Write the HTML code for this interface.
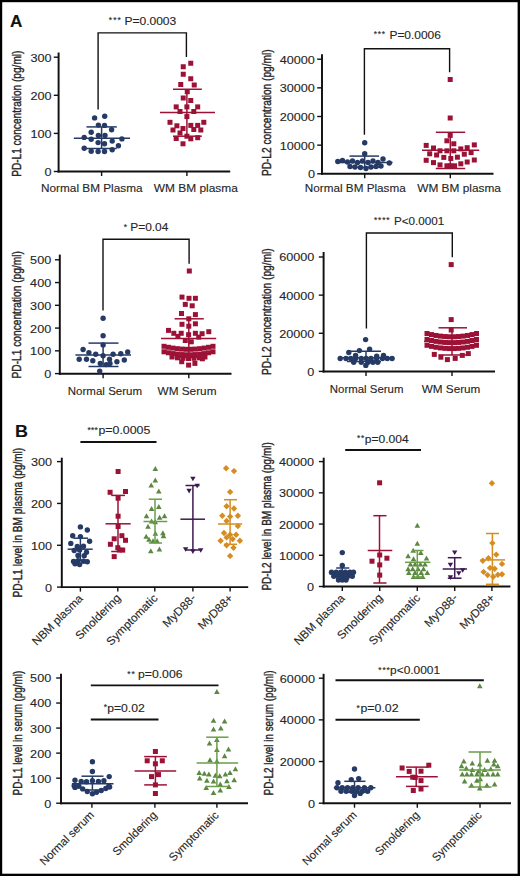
<!DOCTYPE html>
<html><head><meta charset="utf-8"><style>
html,body{margin:0;padding:0;background:#fff;}
svg{display:block;}
text{font-family:"Liberation Sans",sans-serif;stroke:#262626;stroke-width:0.12px;}
.v{stroke-width:0.4px;}
</style></head><body>
<svg width="520" height="876" viewBox="0 0 520 876">
<rect x="0" y="0" width="520" height="876" fill="#000"/>
<rect x="2.2" y="2.2" width="515.4" height="871.5" fill="#fff"/>
<text transform="translate(10.07,26.9) scale(1.0748,1)" font-size="16" font-weight="bold" fill="#111">A</text>
<line x1="58.6" y1="52.5" x2="58.6" y2="172.47" stroke="#111" stroke-width="1.95" stroke-linecap="butt"/>
<line x1="57.62" y1="171.5" x2="230.2" y2="171.5" stroke="#111" stroke-width="1.95" stroke-linecap="butt"/>
<line x1="53.8" y1="57.2" x2="58.6" y2="57.2" stroke="#111" stroke-width="1.4" stroke-linecap="butt"/>
<text transform="translate(30.52,61.65) scale(1.1000,1)" font-size="11.5" fill="#262626">300</text>
<line x1="53.8" y1="95.3" x2="58.6" y2="95.3" stroke="#111" stroke-width="1.4" stroke-linecap="butt"/>
<text transform="translate(30.52,99.75) scale(1.1000,1)" font-size="11.5" fill="#262626">200</text>
<line x1="53.8" y1="133.4" x2="58.6" y2="133.4" stroke="#111" stroke-width="1.4" stroke-linecap="butt"/>
<text transform="translate(30.52,137.85) scale(1.1000,1)" font-size="11.5" fill="#262626">100</text>
<line x1="53.8" y1="171.5" x2="58.6" y2="171.5" stroke="#111" stroke-width="1.4" stroke-linecap="butt"/>
<text transform="translate(44.6,175.95) scale(1.1000,1)" font-size="11.5" fill="#262626">0</text>
<line x1="101.6" y1="171.5" x2="101.6" y2="176" stroke="#111" stroke-width="1.4" stroke-linecap="butt"/>
<line x1="186.9" y1="171.5" x2="186.9" y2="176" stroke="#111" stroke-width="1.4" stroke-linecap="butt"/>
<text transform="translate(41.03,191.8) scale(1.0725,1)" font-size="11" fill="#262626">Normal BM Plasma</text>
<text transform="translate(153.69,191.8) scale(1.0865,1)" font-size="11" fill="#262626">WM BM plasma</text>
<text class="v" transform="translate(21.2,176) rotate(-90) scale(0.7783,1) translate(-1.1,0)" font-size="13" fill="#262626">PD-L1 concentration (pg/ml)</text>
<polyline points="98.1,109.5 98.1,32.9 186.4,32.9 186.4,57" fill="none" stroke="#111" stroke-width="1.4"/>
<text transform="translate(124.41,24.9) scale(1.0957,1)" font-size="11" fill="#262626">P=0.0003</text>
<text x="108.7" y="23.11" font-size="8.5" fill="#262626">*</text>
<text x="113.15" y="23.11" font-size="8.5" fill="#262626">*</text>
<text x="117.6" y="23.11" font-size="8.5" fill="#262626">*</text>
<circle cx="94.6" cy="117.9" r="2.7" fill="#263a66"/>
<circle cx="104.7" cy="116.2" r="2.7" fill="#263a66"/>
<circle cx="98.4" cy="125.1" r="2.7" fill="#263a66"/>
<circle cx="104.5" cy="125.4" r="2.7" fill="#263a66"/>
<circle cx="111.6" cy="129.7" r="2.7" fill="#263a66"/>
<circle cx="91.2" cy="132.3" r="2.7" fill="#263a66"/>
<circle cx="98.4" cy="135.4" r="2.7" fill="#263a66"/>
<circle cx="105" cy="135.4" r="2.7" fill="#263a66"/>
<circle cx="84.2" cy="137.4" r="2.7" fill="#263a66"/>
<circle cx="91.2" cy="139.2" r="2.7" fill="#263a66"/>
<circle cx="121.9" cy="138.9" r="2.7" fill="#263a66"/>
<circle cx="112.2" cy="141.1" r="2.7" fill="#263a66"/>
<circle cx="98.1" cy="142.6" r="2.7" fill="#263a66"/>
<circle cx="104.5" cy="143.8" r="2.7" fill="#263a66"/>
<circle cx="118.4" cy="145.7" r="2.7" fill="#263a66"/>
<circle cx="84.2" cy="148.2" r="2.7" fill="#263a66"/>
<circle cx="91.2" cy="151.2" r="2.7" fill="#263a66"/>
<circle cx="98.1" cy="151.5" r="2.7" fill="#263a66"/>
<circle cx="104.5" cy="151.5" r="2.7" fill="#263a66"/>
<circle cx="112.2" cy="149.7" r="2.7" fill="#263a66"/>
<line x1="73.8" y1="138.2" x2="130" y2="138.2" stroke="#263a66" stroke-width="1.5" stroke-linecap="butt"/>
<line x1="86.5" y1="126.9" x2="116.8" y2="126.9" stroke="#263a66" stroke-width="1.5" stroke-linecap="butt"/>
<line x1="86.5" y1="148.5" x2="116.8" y2="148.5" stroke="#263a66" stroke-width="1.5" stroke-linecap="butt"/>
<line x1="101.6" y1="126.9" x2="101.6" y2="148.5" stroke="#263a66" stroke-width="1.5" stroke-linecap="butt"/>
<rect x="188.25" y="60.75" width="5" height="5" fill="#9c1236"/>
<rect x="180.75" y="64.25" width="5" height="5" fill="#9c1236"/>
<rect x="180.75" y="71.75" width="5" height="5" fill="#9c1236"/>
<rect x="188.25" y="76.25" width="5" height="5" fill="#9c1236"/>
<rect x="178.25" y="82" width="5" height="5" fill="#9c1236"/>
<rect x="191.75" y="82.5" width="5" height="5" fill="#9c1236"/>
<rect x="184.75" y="89.25" width="5" height="5" fill="#9c1236"/>
<rect x="180.75" y="95.5" width="5" height="5" fill="#9c1236"/>
<rect x="188.25" y="98" width="5" height="5" fill="#9c1236"/>
<rect x="173.7" y="104.4" width="5" height="5" fill="#9c1236"/>
<rect x="184.4" y="104.4" width="5" height="5" fill="#9c1236"/>
<rect x="195.2" y="104.4" width="5" height="5" fill="#9c1236"/>
<rect x="177.5" y="109" width="5" height="5" fill="#9c1236"/>
<rect x="191.3" y="109" width="5" height="5" fill="#9c1236"/>
<rect x="184.4" y="114.1" width="5" height="5" fill="#9c1236"/>
<rect x="167.5" y="119.8" width="5" height="5" fill="#9c1236"/>
<rect x="201.3" y="119.8" width="5" height="5" fill="#9c1236"/>
<rect x="174.4" y="123.3" width="5" height="5" fill="#9c1236"/>
<rect x="188.3" y="122.9" width="5" height="5" fill="#9c1236"/>
<rect x="195.2" y="122.9" width="5" height="5" fill="#9c1236"/>
<rect x="170.5" y="127.5" width="5" height="5" fill="#9c1236"/>
<rect x="180.5" y="126" width="5" height="5" fill="#9c1236"/>
<rect x="191.3" y="127" width="5" height="5" fill="#9c1236"/>
<rect x="198.3" y="127.5" width="5" height="5" fill="#9c1236"/>
<rect x="177.5" y="130.5" width="5" height="5" fill="#9c1236"/>
<rect x="184.4" y="133.7" width="5" height="5" fill="#9c1236"/>
<rect x="173.7" y="136" width="5" height="5" fill="#9c1236"/>
<rect x="188.3" y="136.3" width="5" height="5" fill="#9c1236"/>
<rect x="195.2" y="135.2" width="5" height="5" fill="#9c1236"/>
<rect x="180.5" y="141.3" width="5" height="5" fill="#9c1236"/>
<line x1="160" y1="112.5" x2="215" y2="112.5" stroke="#9c1236" stroke-width="1.5" stroke-linecap="butt"/>
<line x1="173" y1="89.25" x2="201.8" y2="89.25" stroke="#9c1236" stroke-width="1.5" stroke-linecap="butt"/>
<line x1="173" y1="136.2" x2="201.8" y2="136.2" stroke="#9c1236" stroke-width="1.5" stroke-linecap="butt"/>
<line x1="186.9" y1="89.25" x2="186.9" y2="136.2" stroke="#9c1236" stroke-width="1.5" stroke-linecap="butt"/>
<line x1="322" y1="54.3" x2="322" y2="174.78" stroke="#111" stroke-width="1.95" stroke-linecap="butt"/>
<line x1="321.02" y1="173.8" x2="493.5" y2="173.8" stroke="#111" stroke-width="1.95" stroke-linecap="butt"/>
<line x1="317.2" y1="59.2" x2="322" y2="59.2" stroke="#111" stroke-width="1.4" stroke-linecap="butt"/>
<text transform="translate(279.74,63.65) scale(1.1000,1)" font-size="11.5" fill="#262626">40000</text>
<line x1="317.2" y1="87.85" x2="322" y2="87.85" stroke="#111" stroke-width="1.4" stroke-linecap="butt"/>
<text transform="translate(279.74,92.3) scale(1.1000,1)" font-size="11.5" fill="#262626">30000</text>
<line x1="317.2" y1="116.5" x2="322" y2="116.5" stroke="#111" stroke-width="1.4" stroke-linecap="butt"/>
<text transform="translate(279.74,120.95) scale(1.1000,1)" font-size="11.5" fill="#262626">20000</text>
<line x1="317.2" y1="145.15" x2="322" y2="145.15" stroke="#111" stroke-width="1.4" stroke-linecap="butt"/>
<text transform="translate(279.74,149.6) scale(1.1000,1)" font-size="11.5" fill="#262626">10000</text>
<line x1="317.2" y1="173.8" x2="322" y2="173.8" stroke="#111" stroke-width="1.4" stroke-linecap="butt"/>
<text transform="translate(307.9,178.25) scale(1.1000,1)" font-size="11.5" fill="#262626">0</text>
<line x1="364.7" y1="173.8" x2="364.7" y2="178.3" stroke="#111" stroke-width="1.4" stroke-linecap="butt"/>
<line x1="450.3" y1="173.8" x2="450.3" y2="178.3" stroke="#111" stroke-width="1.4" stroke-linecap="butt"/>
<text transform="translate(304.84,192.2) scale(1.0661,1)" font-size="11" fill="#262626">Normal BM Plasma</text>
<text transform="translate(417.19,192.2) scale(1.0800,1)" font-size="11" fill="#262626">WM BM plasma</text>
<text class="v" transform="translate(271.4,175.2) rotate(-90) scale(0.7796,1) translate(-1.1,0)" font-size="13" fill="#262626">PD-L2 concentration (pg/ml)</text>
<polyline points="364.4,134.7 364.4,48.7 449.6,48.7 449.6,72.3" fill="none" stroke="#111" stroke-width="1.4"/>
<text transform="translate(389.42,39.1) scale(1.0870,1)" font-size="11" fill="#262626">P=0.0006</text>
<text x="373.7" y="37.31" font-size="8.5" fill="#262626">*</text>
<text x="377.75" y="37.31" font-size="8.5" fill="#262626">*</text>
<text x="381.8" y="37.31" font-size="8.5" fill="#262626">*</text>
<circle cx="364.7" cy="142.8" r="2.7" fill="#263a66"/>
<circle cx="364.7" cy="153.8" r="2.7" fill="#263a66"/>
<circle cx="337.8" cy="161.5" r="2.7" fill="#263a66"/>
<circle cx="342.5" cy="160.5" r="2.7" fill="#263a66"/>
<circle cx="347.5" cy="162" r="2.7" fill="#263a66"/>
<circle cx="352.5" cy="161" r="2.7" fill="#263a66"/>
<circle cx="357.5" cy="162.5" r="2.7" fill="#263a66"/>
<circle cx="362.5" cy="161" r="2.7" fill="#263a66"/>
<circle cx="368" cy="162.5" r="2.7" fill="#263a66"/>
<circle cx="373" cy="161" r="2.7" fill="#263a66"/>
<circle cx="378" cy="162.5" r="2.7" fill="#263a66"/>
<circle cx="383" cy="159" r="2.7" fill="#263a66"/>
<circle cx="389.3" cy="163" r="2.7" fill="#263a66"/>
<circle cx="350" cy="166.5" r="2.7" fill="#263a66"/>
<circle cx="355" cy="167" r="2.7" fill="#263a66"/>
<circle cx="360.5" cy="167.5" r="2.7" fill="#263a66"/>
<circle cx="366" cy="168.5" r="2.7" fill="#263a66"/>
<circle cx="371" cy="167" r="2.7" fill="#263a66"/>
<circle cx="376" cy="166.5" r="2.7" fill="#263a66"/>
<circle cx="381" cy="166" r="2.7" fill="#263a66"/>
<line x1="336.7" y1="162.6" x2="392.6" y2="162.6" stroke="#263a66" stroke-width="1.5" stroke-linecap="butt"/>
<line x1="349.5" y1="156.1" x2="379.1" y2="156.1" stroke="#263a66" stroke-width="1.5" stroke-linecap="butt"/>
<line x1="349.5" y1="167.3" x2="379.1" y2="167.3" stroke="#263a66" stroke-width="1.5" stroke-linecap="butt"/>
<line x1="364.7" y1="156.1" x2="364.7" y2="167.3" stroke="#263a66" stroke-width="1.5" stroke-linecap="butt"/>
<rect x="447.7" y="77" width="5" height="5" fill="#9c1236"/>
<rect x="447.7" y="115.5" width="5" height="5" fill="#9c1236"/>
<rect x="447.7" y="132.9" width="5" height="5" fill="#9c1236"/>
<rect x="444.4" y="138.3" width="5" height="5" fill="#9c1236"/>
<rect x="451.3" y="141.3" width="5" height="5" fill="#9c1236"/>
<rect x="423.7" y="142.9" width="5" height="5" fill="#9c1236"/>
<rect x="471.8" y="142.4" width="5" height="5" fill="#9c1236"/>
<rect x="431" y="145.5" width="5" height="5" fill="#9c1236"/>
<rect x="437.5" y="148.3" width="5" height="5" fill="#9c1236"/>
<rect x="444.4" y="148.3" width="5" height="5" fill="#9c1236"/>
<rect x="451.3" y="148.3" width="5" height="5" fill="#9c1236"/>
<rect x="458.3" y="146.4" width="5" height="5" fill="#9c1236"/>
<rect x="464.7" y="145.2" width="5" height="5" fill="#9c1236"/>
<rect x="427.2" y="151.3" width="5" height="5" fill="#9c1236"/>
<rect x="434.1" y="152.5" width="5" height="5" fill="#9c1236"/>
<rect x="468.6" y="150.1" width="5" height="5" fill="#9c1236"/>
<rect x="461.8" y="151.7" width="5" height="5" fill="#9c1236"/>
<rect x="441.3" y="154.9" width="5" height="5" fill="#9c1236"/>
<rect x="448.3" y="156" width="5" height="5" fill="#9c1236"/>
<rect x="454.9" y="154.7" width="5" height="5" fill="#9c1236"/>
<rect x="423.7" y="157.8" width="5" height="5" fill="#9c1236"/>
<rect x="471.8" y="157.5" width="5" height="5" fill="#9c1236"/>
<rect x="431" y="160.1" width="5" height="5" fill="#9c1236"/>
<rect x="437.5" y="162.4" width="5" height="5" fill="#9c1236"/>
<rect x="444.4" y="163.3" width="5" height="5" fill="#9c1236"/>
<rect x="448.3" y="163.3" width="5" height="5" fill="#9c1236"/>
<rect x="452.1" y="163.3" width="5" height="5" fill="#9c1236"/>
<rect x="458.3" y="161.3" width="5" height="5" fill="#9c1236"/>
<rect x="464.7" y="159.5" width="5" height="5" fill="#9c1236"/>
<line x1="422" y1="150.3" x2="479.2" y2="150.3" stroke="#9c1236" stroke-width="1.5" stroke-linecap="butt"/>
<line x1="435.8" y1="132.3" x2="465.2" y2="132.3" stroke="#9c1236" stroke-width="1.5" stroke-linecap="butt"/>
<line x1="435.8" y1="168.5" x2="465.2" y2="168.5" stroke="#9c1236" stroke-width="1.5" stroke-linecap="butt"/>
<line x1="450.3" y1="132.3" x2="450.3" y2="168.5" stroke="#9c1236" stroke-width="1.5" stroke-linecap="butt"/>
<line x1="59.8" y1="254.6" x2="59.8" y2="374.78" stroke="#111" stroke-width="1.95" stroke-linecap="butt"/>
<line x1="58.82" y1="373.8" x2="231.5" y2="373.8" stroke="#111" stroke-width="1.95" stroke-linecap="butt"/>
<line x1="55" y1="259.8" x2="59.8" y2="259.8" stroke="#111" stroke-width="1.4" stroke-linecap="butt"/>
<text transform="translate(30.12,264.25) scale(1.1000,1)" font-size="11.5" fill="#262626">500</text>
<line x1="55" y1="282.56" x2="59.8" y2="282.56" stroke="#111" stroke-width="1.4" stroke-linecap="butt"/>
<text transform="translate(30.12,287.01) scale(1.1000,1)" font-size="11.5" fill="#262626">400</text>
<line x1="55" y1="305.32" x2="59.8" y2="305.32" stroke="#111" stroke-width="1.4" stroke-linecap="butt"/>
<text transform="translate(30.12,309.77) scale(1.1000,1)" font-size="11.5" fill="#262626">300</text>
<line x1="55" y1="328.08" x2="59.8" y2="328.08" stroke="#111" stroke-width="1.4" stroke-linecap="butt"/>
<text transform="translate(30.12,332.53) scale(1.1000,1)" font-size="11.5" fill="#262626">200</text>
<line x1="55" y1="350.84" x2="59.8" y2="350.84" stroke="#111" stroke-width="1.4" stroke-linecap="butt"/>
<text transform="translate(30.12,355.29) scale(1.1000,1)" font-size="11.5" fill="#262626">100</text>
<line x1="55" y1="373.6" x2="59.8" y2="373.6" stroke="#111" stroke-width="1.4" stroke-linecap="butt"/>
<text transform="translate(44.2,378.05) scale(1.1000,1)" font-size="11.5" fill="#262626">0</text>
<line x1="103.1" y1="373.8" x2="103.1" y2="378.3" stroke="#111" stroke-width="1.4" stroke-linecap="butt"/>
<line x1="188.8" y1="373.8" x2="188.8" y2="378.3" stroke="#111" stroke-width="1.4" stroke-linecap="butt"/>
<text transform="translate(67.76,394.9) scale(1.0491,1)" font-size="11" fill="#262626">Normal Serum</text>
<text transform="translate(157.49,394.9) scale(1.0739,1)" font-size="11" fill="#262626">WM Serum</text>
<text class="v" transform="translate(20.6,377.6) rotate(-90) scale(0.7839,1) translate(-1.1,0)" font-size="13" fill="#262626">PD-L1 concentration (pg/ml)</text>
<polyline points="103,310.5 103,239.2 189.1,239.2 189.1,263.7" fill="none" stroke="#111" stroke-width="1.4"/>
<text transform="translate(130.22,231.3) scale(1.0853,1)" font-size="11" fill="#262626">P=0.04</text>
<text x="123.65" y="229.51" font-size="8.5" fill="#262626">*</text>
<circle cx="103.1" cy="318.2" r="2.7" fill="#263a66"/>
<circle cx="103.1" cy="335.7" r="2.7" fill="#263a66"/>
<circle cx="103.1" cy="344.9" r="2.7" fill="#263a66"/>
<circle cx="83.1" cy="349.5" r="2.7" fill="#263a66"/>
<circle cx="88.9" cy="352.6" r="2.7" fill="#263a66"/>
<circle cx="95.7" cy="354.2" r="2.7" fill="#263a66"/>
<circle cx="127.7" cy="352" r="2.7" fill="#263a66"/>
<circle cx="120.8" cy="353.8" r="2.7" fill="#263a66"/>
<circle cx="113.1" cy="354.2" r="2.7" fill="#263a66"/>
<circle cx="103.1" cy="355.7" r="2.7" fill="#263a66"/>
<circle cx="79.2" cy="359.2" r="2.7" fill="#263a66"/>
<circle cx="86.5" cy="359.2" r="2.7" fill="#263a66"/>
<circle cx="92.8" cy="360.8" r="2.7" fill="#263a66"/>
<circle cx="109.5" cy="359.2" r="2.7" fill="#263a66"/>
<circle cx="116.9" cy="361.8" r="2.7" fill="#263a66"/>
<circle cx="124.3" cy="360" r="2.7" fill="#263a66"/>
<circle cx="100.3" cy="363.4" r="2.7" fill="#263a66"/>
<circle cx="106.2" cy="364.6" r="2.7" fill="#263a66"/>
<circle cx="110" cy="363.4" r="2.7" fill="#263a66"/>
<circle cx="99.7" cy="371.1" r="2.7" fill="#263a66"/>
<line x1="75.4" y1="354.9" x2="131" y2="354.9" stroke="#263a66" stroke-width="1.5" stroke-linecap="butt"/>
<line x1="88.5" y1="343.1" x2="118.5" y2="343.1" stroke="#263a66" stroke-width="1.5" stroke-linecap="butt"/>
<line x1="88.5" y1="366.5" x2="118.5" y2="366.5" stroke="#263a66" stroke-width="1.5" stroke-linecap="butt"/>
<line x1="103.1" y1="343.1" x2="103.1" y2="366.5" stroke="#263a66" stroke-width="1.5" stroke-linecap="butt"/>
<rect x="186.8" y="268.5" width="5" height="5" fill="#9c1236"/>
<rect x="179.5" y="294.6" width="5" height="5" fill="#9c1236"/>
<rect x="186.5" y="295.8" width="5" height="5" fill="#9c1236"/>
<rect x="192.9" y="295.8" width="5" height="5" fill="#9c1236"/>
<rect x="182.8" y="301.9" width="5" height="5" fill="#9c1236"/>
<rect x="189.7" y="303.3" width="5" height="5" fill="#9c1236"/>
<rect x="179" y="311" width="5" height="5" fill="#9c1236"/>
<rect x="192.9" y="312.1" width="5" height="5" fill="#9c1236"/>
<rect x="186.3" y="316.3" width="5" height="5" fill="#9c1236"/>
<rect x="179.5" y="321.8" width="5" height="5" fill="#9c1236"/>
<rect x="192.9" y="321.3" width="5" height="5" fill="#9c1236"/>
<rect x="186.3" y="323.7" width="5" height="5" fill="#9c1236"/>
<rect x="166" y="327.9" width="5" height="5" fill="#9c1236"/>
<rect x="206.3" y="329.2" width="5" height="5" fill="#9c1236"/>
<rect x="171.3" y="330.8" width="5" height="5" fill="#9c1236"/>
<rect x="178.7" y="330.8" width="5" height="5" fill="#9c1236"/>
<rect x="186.1" y="332.2" width="5" height="5" fill="#9c1236"/>
<rect x="192.9" y="330.8" width="5" height="5" fill="#9c1236"/>
<rect x="199.6" y="331.2" width="5" height="5" fill="#9c1236"/>
<rect x="175.4" y="333.9" width="5" height="5" fill="#9c1236"/>
<rect x="196.2" y="334.6" width="5" height="5" fill="#9c1236"/>
<rect x="182.8" y="338" width="5" height="5" fill="#9c1236"/>
<rect x="188.8" y="339.3" width="5" height="5" fill="#9c1236"/>
<rect x="179.2" y="359.2" width="5" height="5" fill="#9c1236"/>
<rect x="186.1" y="362.6" width="5" height="5" fill="#9c1236"/>
<rect x="192.4" y="360.9" width="5" height="5" fill="#9c1236"/>
<rect x="199.9" y="356.3" width="5" height="5" fill="#9c1236"/>
<rect x="161.5" y="343.8" width="5" height="5" fill="#9c1236"/>
<rect x="165.95" y="344.79" width="5" height="5" fill="#9c1236"/>
<rect x="170.41" y="345.59" width="5" height="5" fill="#9c1236"/>
<rect x="174.86" y="346.18" width="5" height="5" fill="#9c1236"/>
<rect x="179.32" y="346.58" width="5" height="5" fill="#9c1236"/>
<rect x="183.77" y="346.78" width="5" height="5" fill="#9c1236"/>
<rect x="188.23" y="346.78" width="5" height="5" fill="#9c1236"/>
<rect x="192.68" y="346.58" width="5" height="5" fill="#9c1236"/>
<rect x="197.14" y="346.18" width="5" height="5" fill="#9c1236"/>
<rect x="201.59" y="345.59" width="5" height="5" fill="#9c1236"/>
<rect x="206.05" y="344.79" width="5" height="5" fill="#9c1236"/>
<rect x="210.5" y="343.8" width="5" height="5" fill="#9c1236"/>
<rect x="161.5" y="349.3" width="5" height="5" fill="#9c1236"/>
<rect x="165.95" y="350.29" width="5" height="5" fill="#9c1236"/>
<rect x="170.41" y="351.09" width="5" height="5" fill="#9c1236"/>
<rect x="174.86" y="351.68" width="5" height="5" fill="#9c1236"/>
<rect x="179.32" y="352.08" width="5" height="5" fill="#9c1236"/>
<rect x="183.77" y="352.28" width="5" height="5" fill="#9c1236"/>
<rect x="188.23" y="352.28" width="5" height="5" fill="#9c1236"/>
<rect x="192.68" y="352.08" width="5" height="5" fill="#9c1236"/>
<rect x="197.14" y="351.68" width="5" height="5" fill="#9c1236"/>
<rect x="201.59" y="351.09" width="5" height="5" fill="#9c1236"/>
<rect x="206.05" y="350.29" width="5" height="5" fill="#9c1236"/>
<rect x="210.5" y="349.3" width="5" height="5" fill="#9c1236"/>
<rect x="169.5" y="354.5" width="5" height="5" fill="#9c1236"/>
<rect x="175" y="355.33" width="5" height="5" fill="#9c1236"/>
<rect x="180.5" y="355.83" width="5" height="5" fill="#9c1236"/>
<rect x="186" y="356" width="5" height="5" fill="#9c1236"/>
<rect x="191.5" y="355.83" width="5" height="5" fill="#9c1236"/>
<rect x="197" y="355.33" width="5" height="5" fill="#9c1236"/>
<rect x="202.5" y="354.5" width="5" height="5" fill="#9c1236"/>
<line x1="161" y1="338.5" x2="216.2" y2="338.5" stroke="#9c1236" stroke-width="1.5" stroke-linecap="butt"/>
<line x1="174.6" y1="318.8" x2="203.8" y2="318.8" stroke="#9c1236" stroke-width="1.5" stroke-linecap="butt"/>
<line x1="174.6" y1="357.5" x2="203.8" y2="357.5" stroke="#9c1236" stroke-width="1.5" stroke-linecap="butt"/>
<line x1="188.8" y1="318.8" x2="188.8" y2="357.5" stroke="#9c1236" stroke-width="1.5" stroke-linecap="butt"/>
<line x1="323.6" y1="252" x2="323.6" y2="372.48" stroke="#111" stroke-width="1.95" stroke-linecap="butt"/>
<line x1="322.62" y1="371.5" x2="495" y2="371.5" stroke="#111" stroke-width="1.95" stroke-linecap="butt"/>
<line x1="318.8" y1="257" x2="323.6" y2="257" stroke="#111" stroke-width="1.4" stroke-linecap="butt"/>
<text transform="translate(279.14,261.45) scale(1.1000,1)" font-size="11.5" fill="#262626">60000</text>
<line x1="318.8" y1="295.13" x2="323.6" y2="295.13" stroke="#111" stroke-width="1.4" stroke-linecap="butt"/>
<text transform="translate(279.14,299.58) scale(1.1000,1)" font-size="11.5" fill="#262626">40000</text>
<line x1="318.8" y1="333.27" x2="323.6" y2="333.27" stroke="#111" stroke-width="1.4" stroke-linecap="butt"/>
<text transform="translate(279.14,337.72) scale(1.1000,1)" font-size="11.5" fill="#262626">20000</text>
<line x1="318.8" y1="371.4" x2="323.6" y2="371.4" stroke="#111" stroke-width="1.4" stroke-linecap="butt"/>
<text transform="translate(307.3,375.85) scale(1.1000,1)" font-size="11.5" fill="#262626">0</text>
<line x1="366" y1="371.5" x2="366" y2="376" stroke="#111" stroke-width="1.4" stroke-linecap="butt"/>
<line x1="452" y1="371.5" x2="452" y2="376" stroke="#111" stroke-width="1.4" stroke-linecap="butt"/>
<text transform="translate(329.86,392.6) scale(1.0390,1)" font-size="11" fill="#262626">Normal Serum</text>
<text transform="translate(421.79,392.6) scale(1.0665,1)" font-size="11" fill="#262626">WM Serum</text>
<text class="v" transform="translate(271.2,374.2) rotate(-90) scale(0.7796,1) translate(-1.1,0)" font-size="13" fill="#262626">PD-L2 concentration (pg/ml)</text>
<polyline points="366.4,328.5 366.4,233 452.3,233 452.3,257.2" fill="none" stroke="#111" stroke-width="1.4"/>
<text transform="translate(393.95,225.1) scale(1.0609,1)" font-size="11" fill="#262626">P&lt;0.0001</text>
<text x="374" y="223.31" font-size="8.5" fill="#262626">*</text>
<text x="378.1" y="223.31" font-size="8.5" fill="#262626">*</text>
<text x="382.2" y="223.31" font-size="8.5" fill="#262626">*</text>
<text x="386.3" y="223.31" font-size="8.5" fill="#262626">*</text>
<circle cx="365.6" cy="339.6" r="2.7" fill="#263a66"/>
<circle cx="348.8" cy="352.5" r="2.7" fill="#263a66"/>
<circle cx="359.4" cy="350.6" r="2.7" fill="#263a66"/>
<circle cx="369.6" cy="349.2" r="2.7" fill="#263a66"/>
<circle cx="355.6" cy="355.4" r="2.7" fill="#263a66"/>
<circle cx="376.7" cy="356.3" r="2.7" fill="#263a66"/>
<circle cx="383.5" cy="355.4" r="2.7" fill="#263a66"/>
<circle cx="340.2" cy="358.5" r="2.7" fill="#263a66"/>
<circle cx="346" cy="358.5" r="2.7" fill="#263a66"/>
<circle cx="350.8" cy="358.5" r="2.7" fill="#263a66"/>
<circle cx="355.6" cy="358.5" r="2.7" fill="#263a66"/>
<circle cx="361.3" cy="358.5" r="2.7" fill="#263a66"/>
<circle cx="366.2" cy="358.5" r="2.7" fill="#263a66"/>
<circle cx="371" cy="358.5" r="2.7" fill="#263a66"/>
<circle cx="376.7" cy="358.5" r="2.7" fill="#263a66"/>
<circle cx="382.5" cy="358.5" r="2.7" fill="#263a66"/>
<circle cx="387.3" cy="358.5" r="2.7" fill="#263a66"/>
<circle cx="392.1" cy="358.5" r="2.7" fill="#263a66"/>
<circle cx="353.7" cy="362.3" r="2.7" fill="#263a66"/>
<circle cx="361.3" cy="362.3" r="2.7" fill="#263a66"/>
<circle cx="368" cy="362.3" r="2.7" fill="#263a66"/>
<circle cx="372.9" cy="362.3" r="2.7" fill="#263a66"/>
<circle cx="377.7" cy="362.3" r="2.7" fill="#263a66"/>
<circle cx="365.8" cy="365.4" r="2.7" fill="#263a66"/>
<line x1="338.3" y1="357.7" x2="394" y2="357.7" stroke="#263a66" stroke-width="1.5" stroke-linecap="butt"/>
<line x1="347" y1="351.2" x2="381" y2="351.2" stroke="#263a66" stroke-width="1.5" stroke-linecap="butt"/>
<line x1="347" y1="361.5" x2="381" y2="361.5" stroke="#263a66" stroke-width="1.5" stroke-linecap="butt"/>
<line x1="366" y1="351.2" x2="366" y2="361.5" stroke="#263a66" stroke-width="1.5" stroke-linecap="butt"/>
<rect x="448.7" y="262.1" width="5" height="5" fill="#9c1236"/>
<rect x="448.7" y="317.1" width="5" height="5" fill="#9c1236"/>
<rect x="448.7" y="327.5" width="5" height="5" fill="#9c1236"/>
<rect x="424.5" y="331" width="5" height="5" fill="#9c1236"/>
<rect x="429" y="332.09" width="5" height="5" fill="#9c1236"/>
<rect x="433.5" y="332.96" width="5" height="5" fill="#9c1236"/>
<rect x="438" y="333.62" width="5" height="5" fill="#9c1236"/>
<rect x="442.5" y="334.05" width="5" height="5" fill="#9c1236"/>
<rect x="447" y="334.27" width="5" height="5" fill="#9c1236"/>
<rect x="451.5" y="334.27" width="5" height="5" fill="#9c1236"/>
<rect x="456" y="334.05" width="5" height="5" fill="#9c1236"/>
<rect x="460.5" y="333.62" width="5" height="5" fill="#9c1236"/>
<rect x="465" y="332.96" width="5" height="5" fill="#9c1236"/>
<rect x="469.5" y="332.09" width="5" height="5" fill="#9c1236"/>
<rect x="474" y="331" width="5" height="5" fill="#9c1236"/>
<rect x="424.5" y="336.9" width="5" height="5" fill="#9c1236"/>
<rect x="429" y="337.99" width="5" height="5" fill="#9c1236"/>
<rect x="433.5" y="338.86" width="5" height="5" fill="#9c1236"/>
<rect x="438" y="339.52" width="5" height="5" fill="#9c1236"/>
<rect x="442.5" y="339.95" width="5" height="5" fill="#9c1236"/>
<rect x="447" y="340.17" width="5" height="5" fill="#9c1236"/>
<rect x="451.5" y="340.17" width="5" height="5" fill="#9c1236"/>
<rect x="456" y="339.95" width="5" height="5" fill="#9c1236"/>
<rect x="460.5" y="339.52" width="5" height="5" fill="#9c1236"/>
<rect x="465" y="338.86" width="5" height="5" fill="#9c1236"/>
<rect x="469.5" y="337.99" width="5" height="5" fill="#9c1236"/>
<rect x="474" y="336.9" width="5" height="5" fill="#9c1236"/>
<rect x="424.5" y="342.8" width="5" height="5" fill="#9c1236"/>
<rect x="429" y="343.89" width="5" height="5" fill="#9c1236"/>
<rect x="433.5" y="344.76" width="5" height="5" fill="#9c1236"/>
<rect x="438" y="345.42" width="5" height="5" fill="#9c1236"/>
<rect x="442.5" y="345.85" width="5" height="5" fill="#9c1236"/>
<rect x="447" y="346.07" width="5" height="5" fill="#9c1236"/>
<rect x="451.5" y="346.07" width="5" height="5" fill="#9c1236"/>
<rect x="456" y="345.85" width="5" height="5" fill="#9c1236"/>
<rect x="460.5" y="345.42" width="5" height="5" fill="#9c1236"/>
<rect x="465" y="344.76" width="5" height="5" fill="#9c1236"/>
<rect x="469.5" y="343.89" width="5" height="5" fill="#9c1236"/>
<rect x="474" y="342.8" width="5" height="5" fill="#9c1236"/>
<rect x="431.8" y="351.9" width="5" height="5" fill="#9c1236"/>
<rect x="438.4" y="354.7" width="5" height="5" fill="#9c1236"/>
<rect x="444.9" y="357.1" width="5" height="5" fill="#9c1236"/>
<rect x="452.7" y="355.9" width="5" height="5" fill="#9c1236"/>
<rect x="459.8" y="352.9" width="5" height="5" fill="#9c1236"/>
<rect x="465.8" y="351.1" width="5" height="5" fill="#9c1236"/>
<line x1="424" y1="341.5" x2="479" y2="341.5" stroke="#9c1236" stroke-width="1.5" stroke-linecap="butt"/>
<line x1="438.5" y1="327.8" x2="467" y2="327.8" stroke="#9c1236" stroke-width="1.5" stroke-linecap="butt"/>
<line x1="438.5" y1="355" x2="467" y2="355" stroke="#9c1236" stroke-width="1.5" stroke-linecap="butt"/>
<line x1="452" y1="327.8" x2="452" y2="355" stroke="#9c1236" stroke-width="1.5" stroke-linecap="butt"/>
<text transform="translate(14.96,436.5) scale(1.1237,1)" font-size="16" font-weight="bold" fill="#111">B</text>
<line x1="61.8" y1="457.7" x2="61.8" y2="588.08" stroke="#111" stroke-width="1.95" stroke-linecap="butt"/>
<line x1="60.82" y1="587.1" x2="248.2" y2="587.1" stroke="#111" stroke-width="1.95" stroke-linecap="butt"/>
<line x1="57" y1="461.6" x2="61.8" y2="461.6" stroke="#111" stroke-width="1.4" stroke-linecap="butt"/>
<text transform="translate(31.02,466.05) scale(1.1000,1)" font-size="11.5" fill="#262626">300</text>
<line x1="57" y1="503.43" x2="61.8" y2="503.43" stroke="#111" stroke-width="1.4" stroke-linecap="butt"/>
<text transform="translate(31.02,507.88) scale(1.1000,1)" font-size="11.5" fill="#262626">200</text>
<line x1="57" y1="545.27" x2="61.8" y2="545.27" stroke="#111" stroke-width="1.4" stroke-linecap="butt"/>
<text transform="translate(31.02,549.72) scale(1.1000,1)" font-size="11.5" fill="#262626">100</text>
<line x1="57" y1="587.1" x2="61.8" y2="587.1" stroke="#111" stroke-width="1.4" stroke-linecap="butt"/>
<text transform="translate(45.1,591.55) scale(1.1000,1)" font-size="11.5" fill="#262626">0</text>
<line x1="80.4" y1="587.1" x2="80.4" y2="591.6" stroke="#111" stroke-width="1.4" stroke-linecap="butt"/>
<line x1="117.8" y1="587.1" x2="117.8" y2="591.6" stroke="#111" stroke-width="1.4" stroke-linecap="butt"/>
<line x1="154.8" y1="587.1" x2="154.8" y2="591.6" stroke="#111" stroke-width="1.4" stroke-linecap="butt"/>
<line x1="192.9" y1="587.1" x2="192.9" y2="591.6" stroke="#111" stroke-width="1.4" stroke-linecap="butt"/>
<line x1="230.1" y1="587.1" x2="230.1" y2="591.6" stroke="#111" stroke-width="1.4" stroke-linecap="butt"/>
<text class="v" transform="translate(21.6,596.7) rotate(-90) scale(0.7746,1) translate(-1.1,0)" font-size="13" fill="#262626">PD-L1 level in BM plasma (pg/ml)</text>
<line x1="80.4" y1="441.9" x2="156.5" y2="441.9" stroke="#111" stroke-width="2" stroke-linecap="butt"/>
<text transform="translate(98.41,434.2) scale(1.1264,1)" font-size="11" fill="#262626">p=0.0005</text>
<text x="87.5" y="432.7" font-size="8.5" fill="#262626">*</text>
<text x="91" y="432.7" font-size="8.5" fill="#262626">*</text>
<text x="94.5" y="432.7" font-size="8.5" fill="#262626">*</text>
<text transform="translate(83.6,599.2) rotate(-45) scale(1.0053,1) translate(-65.8,0)" font-size="11.5" fill="#262626">NBM plasma</text>
<text transform="translate(121,599.2) rotate(-45) scale(1.0114,1) translate(-57.5,0)" font-size="11.5" fill="#262626">Smoldering</text>
<text transform="translate(158,599.2) rotate(-45) scale(1.0043,1) translate(-66.1,0)" font-size="11.5" fill="#262626">Symptomatic</text>
<text transform="translate(196.1,599.2) rotate(-45) scale(1.0284,1) translate(-39.7,0)" font-size="11.5" fill="#262626">MyD88-</text>
<text transform="translate(233.3,599.2) rotate(-45) scale(1.0255,1) translate(-42.6,0)" font-size="11.5" fill="#262626">MyD88+</text>
<circle cx="80.4" cy="526.9" r="2.7" fill="#263a66"/>
<circle cx="87.3" cy="530" r="2.7" fill="#263a66"/>
<circle cx="72.7" cy="535.7" r="2.7" fill="#263a66"/>
<circle cx="80.4" cy="536.6" r="2.7" fill="#263a66"/>
<circle cx="89.6" cy="541.2" r="2.7" fill="#263a66"/>
<circle cx="70.8" cy="543.4" r="2.7" fill="#263a66"/>
<circle cx="77.3" cy="546.5" r="2.7" fill="#263a66"/>
<circle cx="83.5" cy="546.2" r="2.7" fill="#263a66"/>
<circle cx="74.2" cy="550.5" r="2.7" fill="#263a66"/>
<circle cx="79.6" cy="550" r="2.7" fill="#263a66"/>
<circle cx="86.5" cy="552.3" r="2.7" fill="#263a66"/>
<circle cx="78" cy="555.4" r="2.7" fill="#263a66"/>
<circle cx="84.2" cy="555.7" r="2.7" fill="#263a66"/>
<circle cx="73.5" cy="561.5" r="2.7" fill="#263a66"/>
<circle cx="78" cy="560.8" r="2.7" fill="#263a66"/>
<circle cx="83.5" cy="561.2" r="2.7" fill="#263a66"/>
<circle cx="87.3" cy="561.8" r="2.7" fill="#263a66"/>
<circle cx="75" cy="563.8" r="2.7" fill="#263a66"/>
<circle cx="79.6" cy="564.6" r="2.7" fill="#263a66"/>
<line x1="67.6" y1="549.2" x2="92.7" y2="549.2" stroke="#263a66" stroke-width="1.5" stroke-linecap="butt"/>
<line x1="73.5" y1="538.2" x2="88" y2="538.2" stroke="#263a66" stroke-width="1.5" stroke-linecap="butt"/>
<line x1="73.5" y1="560.3" x2="88" y2="560.3" stroke="#263a66" stroke-width="1.5" stroke-linecap="butt"/>
<line x1="80.4" y1="538.2" x2="80.4" y2="560.3" stroke="#263a66" stroke-width="1.5" stroke-linecap="butt"/>
<rect x="115.6" y="469" width="5" height="5" fill="#9c1236"/>
<rect x="107.6" y="489.8" width="5" height="5" fill="#9c1236"/>
<rect x="123" y="489" width="5" height="5" fill="#9c1236"/>
<rect x="115.6" y="495.7" width="5" height="5" fill="#9c1236"/>
<rect x="115.6" y="513.7" width="5" height="5" fill="#9c1236"/>
<rect x="115.6" y="524" width="5" height="5" fill="#9c1236"/>
<rect x="119.4" y="533.2" width="5" height="5" fill="#9c1236"/>
<rect x="111.7" y="536.3" width="5" height="5" fill="#9c1236"/>
<rect x="123" y="537.8" width="5" height="5" fill="#9c1236"/>
<rect x="107.9" y="541.8" width="5" height="5" fill="#9c1236"/>
<rect x="115.3" y="545.2" width="5" height="5" fill="#9c1236"/>
<rect x="116.8" y="547.5" width="5" height="5" fill="#9c1236"/>
<rect x="120.2" y="547.5" width="5" height="5" fill="#9c1236"/>
<rect x="111.7" y="554.1" width="5" height="5" fill="#9c1236"/>
<line x1="105.5" y1="523.8" x2="130.7" y2="523.8" stroke="#9c1236" stroke-width="1.5" stroke-linecap="butt"/>
<line x1="111.2" y1="495.4" x2="125" y2="495.4" stroke="#9c1236" stroke-width="1.5" stroke-linecap="butt"/>
<line x1="111.2" y1="551.5" x2="125" y2="551.5" stroke="#9c1236" stroke-width="1.5" stroke-linecap="butt"/>
<line x1="118" y1="495.4" x2="118" y2="551.5" stroke="#9c1236" stroke-width="1.5" stroke-linecap="butt"/>
<path d="M155.3 465.88L158.1 470.92L152.5 470.92Z" fill="#5b8842"/>
<path d="M155.3 477.48L158.1 482.52L152.5 482.52Z" fill="#5b8842"/>
<path d="M151.2 482.38L154 487.42L148.4 487.42Z" fill="#5b8842"/>
<path d="M158.8 488.48L161.6 493.52L156 493.52Z" fill="#5b8842"/>
<path d="M151.6 505.88L154.4 510.92L148.8 510.92Z" fill="#5b8842"/>
<path d="M158.8 503.88L161.6 508.92L156 508.92Z" fill="#5b8842"/>
<path d="M146.5 513.18L149.3 518.22L143.7 518.22Z" fill="#5b8842"/>
<path d="M159.6 514.68L162.4 519.72L156.8 519.72Z" fill="#5b8842"/>
<path d="M164.5 513.18L167.3 518.22L161.7 518.22Z" fill="#5b8842"/>
<path d="M151.6 518.48L154.4 523.52L148.8 523.52Z" fill="#5b8842"/>
<path d="M155.3 519.28L158.1 524.32L152.5 524.32Z" fill="#5b8842"/>
<path d="M148 523.68L150.8 528.72L145.2 528.72Z" fill="#5b8842"/>
<path d="M155.4 530.78L158.2 535.82L152.6 535.82Z" fill="#5b8842"/>
<path d="M162.9 530.28L165.7 535.32L160.1 535.32Z" fill="#5b8842"/>
<path d="M163.5 533.18L166.3 538.22L160.7 538.22Z" fill="#5b8842"/>
<path d="M146.2 533.68L149 538.72L143.4 538.72Z" fill="#5b8842"/>
<path d="M149 536.78L151.8 541.82L146.2 541.82Z" fill="#5b8842"/>
<path d="M153 538.28L155.8 543.32L150.2 543.32Z" fill="#5b8842"/>
<path d="M157.1 538.28L159.9 543.32L154.3 543.32Z" fill="#5b8842"/>
<path d="M150.8 548.18L153.6 553.22L148 553.22Z" fill="#5b8842"/>
<path d="M159.4 546.38L162.2 551.42L156.6 551.42Z" fill="#5b8842"/>
<line x1="143.5" y1="521.5" x2="167.3" y2="521.5" stroke="#6a9e48" stroke-width="1.5" stroke-linecap="butt"/>
<line x1="148.8" y1="499.2" x2="162" y2="499.2" stroke="#6a9e48" stroke-width="1.5" stroke-linecap="butt"/>
<line x1="148.8" y1="543" x2="162" y2="543" stroke="#6a9e48" stroke-width="1.5" stroke-linecap="butt"/>
<line x1="155" y1="499.2" x2="155" y2="543" stroke="#6a9e48" stroke-width="1.5" stroke-linecap="butt"/>
<path d="M190.2 476.66L195.6 476.66L192.9 481.25Z" fill="#3d1a52"/>
<path d="M194.5 483.66L199.9 483.66L197.2 488.25Z" fill="#3d1a52"/>
<path d="M186.4 488.86L191.8 488.86L189.1 493.45Z" fill="#3d1a52"/>
<path d="M182.9 547.16L188.3 547.16L185.6 551.75Z" fill="#3d1a52"/>
<path d="M190.2 549.36L195.6 549.36L192.9 553.95Z" fill="#3d1a52"/>
<path d="M198 548.16L203.4 548.16L200.7 552.75Z" fill="#3d1a52"/>
<line x1="180.4" y1="519.2" x2="205" y2="519.2" stroke="#3d1a52" stroke-width="1.5" stroke-linecap="butt"/>
<line x1="185.5" y1="485.5" x2="199.5" y2="485.5" stroke="#3d1a52" stroke-width="1.5" stroke-linecap="butt"/>
<line x1="185.5" y1="550" x2="199.5" y2="550" stroke="#3d1a52" stroke-width="1.5" stroke-linecap="butt"/>
<line x1="192.9" y1="485.5" x2="192.9" y2="550" stroke="#3d1a52" stroke-width="1.5" stroke-linecap="butt"/>
<path d="M226.1 465L229.3 468.2L226.1 471.4L222.9 468.2Z" fill="#d58d22"/>
<path d="M234 467.9L237.2 471.1L234 474.3L230.8 471.1Z" fill="#d58d22"/>
<path d="M230.1 488.7L233.3 491.9L230.1 495.1L226.9 491.9Z" fill="#d58d22"/>
<path d="M226.6 503L229.8 506.2L226.6 509.4L223.4 506.2Z" fill="#d58d22"/>
<path d="M234 505.3L237.2 508.5L234 511.7L230.8 508.5Z" fill="#d58d22"/>
<path d="M222.3 512.5L225.5 515.7L222.3 518.9L219.1 515.7Z" fill="#d58d22"/>
<path d="M230.1 513.4L233.3 516.6L230.1 519.8L226.9 516.6Z" fill="#d58d22"/>
<path d="M237.9 512.5L241.1 515.7L237.9 518.9L234.7 515.7Z" fill="#d58d22"/>
<path d="M226.6 517.8L229.8 521L226.6 524.2L223.4 521Z" fill="#d58d22"/>
<path d="M237.9 522.9L241.1 526.1L237.9 529.3L234.7 526.1Z" fill="#d58d22"/>
<path d="M224 529.8L227.2 533L224 536.2L220.8 533Z" fill="#d58d22"/>
<path d="M230.1 531.6L233.3 534.8L230.1 538L226.9 534.8Z" fill="#d58d22"/>
<path d="M236.1 531.6L239.3 534.8L236.1 538L232.9 534.8Z" fill="#d58d22"/>
<path d="M226.6 534.2L229.8 537.4L226.6 540.6L223.4 537.4Z" fill="#d58d22"/>
<path d="M232.7 535.9L235.9 539.1L232.7 542.3L229.5 539.1Z" fill="#d58d22"/>
<path d="M220.6 537.6L223.8 540.8L220.6 544L217.4 540.8Z" fill="#d58d22"/>
<path d="M239.9 537.6L243.1 540.8L239.9 544L236.7 540.8Z" fill="#d58d22"/>
<path d="M226.6 542L229.8 545.2L226.6 548.4L223.4 545.2Z" fill="#d58d22"/>
<path d="M233.5 544.6L236.7 547.8L233.5 551L230.3 547.8Z" fill="#d58d22"/>
<path d="M230.1 552.7L233.3 555.9L230.1 559.1L226.9 555.9Z" fill="#d58d22"/>
<line x1="218" y1="524" x2="242.2" y2="524" stroke="#d58d22" stroke-width="1.5" stroke-linecap="butt"/>
<line x1="224" y1="499.7" x2="237" y2="499.7" stroke="#d58d22" stroke-width="1.5" stroke-linecap="butt"/>
<line x1="224" y1="544.3" x2="237" y2="544.3" stroke="#d58d22" stroke-width="1.5" stroke-linecap="butt"/>
<line x1="230.1" y1="499.7" x2="230.1" y2="544.3" stroke="#d58d22" stroke-width="1.5" stroke-linecap="butt"/>
<line x1="323.7" y1="457.7" x2="323.7" y2="587.48" stroke="#111" stroke-width="1.95" stroke-linecap="butt"/>
<line x1="322.72" y1="586.5" x2="510.4" y2="586.5" stroke="#111" stroke-width="1.95" stroke-linecap="butt"/>
<line x1="318.9" y1="461.6" x2="323.7" y2="461.6" stroke="#111" stroke-width="1.4" stroke-linecap="butt"/>
<text transform="translate(278.94,466.05) scale(1.1000,1)" font-size="11.5" fill="#262626">40000</text>
<line x1="318.9" y1="492.83" x2="323.7" y2="492.83" stroke="#111" stroke-width="1.4" stroke-linecap="butt"/>
<text transform="translate(278.94,497.28) scale(1.1000,1)" font-size="11.5" fill="#262626">30000</text>
<line x1="318.9" y1="524.05" x2="323.7" y2="524.05" stroke="#111" stroke-width="1.4" stroke-linecap="butt"/>
<text transform="translate(278.94,528.5) scale(1.1000,1)" font-size="11.5" fill="#262626">20000</text>
<line x1="318.9" y1="555.27" x2="323.7" y2="555.27" stroke="#111" stroke-width="1.4" stroke-linecap="butt"/>
<text transform="translate(278.94,559.72) scale(1.1000,1)" font-size="11.5" fill="#262626">10000</text>
<line x1="318.9" y1="586.5" x2="323.7" y2="586.5" stroke="#111" stroke-width="1.4" stroke-linecap="butt"/>
<text transform="translate(307.1,590.95) scale(1.1000,1)" font-size="11.5" fill="#262626">0</text>
<line x1="342.3" y1="586.5" x2="342.3" y2="591" stroke="#111" stroke-width="1.4" stroke-linecap="butt"/>
<line x1="379.7" y1="586.5" x2="379.7" y2="591" stroke="#111" stroke-width="1.4" stroke-linecap="butt"/>
<line x1="417.3" y1="586.5" x2="417.3" y2="591" stroke="#111" stroke-width="1.4" stroke-linecap="butt"/>
<line x1="454.7" y1="586.5" x2="454.7" y2="591" stroke="#111" stroke-width="1.4" stroke-linecap="butt"/>
<line x1="491.9" y1="586.5" x2="491.9" y2="591" stroke="#111" stroke-width="1.4" stroke-linecap="butt"/>
<text class="v" transform="translate(270.6,589.8) rotate(-90) scale(0.7444,1) translate(-1.1,0)" font-size="13.4" fill="#262626">PD-L2 level in BM plasma (pg/ml)</text>
<line x1="345.2" y1="449.9" x2="421" y2="449.9" stroke="#111" stroke-width="2" stroke-linecap="butt"/>
<text transform="translate(364.83,443) scale(1.0949,1)" font-size="11" fill="#262626">p=0.004</text>
<text x="357.1" y="441.3" font-size="8.5" fill="#262626">*</text>
<text x="361" y="441.3" font-size="8.5" fill="#262626">*</text>
<text transform="translate(345.5,598.9) rotate(-45) scale(1.0053,1) translate(-65.8,0)" font-size="11.5" fill="#262626">NBM plasma</text>
<text transform="translate(382.9,598.9) rotate(-45) scale(1.0114,1) translate(-57.5,0)" font-size="11.5" fill="#262626">Smoldering</text>
<text transform="translate(420.5,598.9) rotate(-45) scale(1.0043,1) translate(-66.1,0)" font-size="11.5" fill="#262626">Symptomatic</text>
<text transform="translate(457.9,598.9) rotate(-45) scale(1.0284,1) translate(-39.7,0)" font-size="11.5" fill="#262626">MyD88-</text>
<text transform="translate(495.1,598.9) rotate(-45) scale(1.0255,1) translate(-42.6,0)" font-size="11.5" fill="#262626">MyD88+</text>
<circle cx="342.3" cy="552.6" r="2.7" fill="#263a66"/>
<circle cx="342.3" cy="565.4" r="2.7" fill="#263a66"/>
<circle cx="331.5" cy="572.3" r="2.7" fill="#263a66"/>
<circle cx="336.2" cy="572.3" r="2.7" fill="#263a66"/>
<circle cx="340.8" cy="572.3" r="2.7" fill="#263a66"/>
<circle cx="345.4" cy="572.3" r="2.7" fill="#263a66"/>
<circle cx="350" cy="572.3" r="2.7" fill="#263a66"/>
<circle cx="353.5" cy="572.3" r="2.7" fill="#263a66"/>
<circle cx="333.8" cy="576.2" r="2.7" fill="#263a66"/>
<circle cx="338.5" cy="576.2" r="2.7" fill="#263a66"/>
<circle cx="343.1" cy="576.2" r="2.7" fill="#263a66"/>
<circle cx="347.7" cy="576.2" r="2.7" fill="#263a66"/>
<circle cx="352.3" cy="576.2" r="2.7" fill="#263a66"/>
<circle cx="338.5" cy="580" r="2.7" fill="#263a66"/>
<circle cx="342.3" cy="580" r="2.7" fill="#263a66"/>
<circle cx="346" cy="580" r="2.7" fill="#263a66"/>
<line x1="329.5" y1="573.8" x2="354.6" y2="573.8" stroke="#263a66" stroke-width="1.5" stroke-linecap="butt"/>
<line x1="336.2" y1="568" x2="349.2" y2="568" stroke="#263a66" stroke-width="1.5" stroke-linecap="butt"/>
<line x1="336.2" y1="579" x2="349.2" y2="579" stroke="#263a66" stroke-width="1.5" stroke-linecap="butt"/>
<line x1="342.3" y1="568" x2="342.3" y2="579" stroke="#263a66" stroke-width="1.5" stroke-linecap="butt"/>
<rect x="377.1" y="480.3" width="5" height="5" fill="#9c1236"/>
<rect x="377.2" y="552.5" width="5" height="5" fill="#9c1236"/>
<rect x="384.4" y="555.7" width="5" height="5" fill="#9c1236"/>
<rect x="369.5" y="558.7" width="5" height="5" fill="#9c1236"/>
<rect x="377.2" y="562.4" width="5" height="5" fill="#9c1236"/>
<rect x="377.2" y="572.6" width="5" height="5" fill="#9c1236"/>
<line x1="367.7" y1="550.5" x2="392.3" y2="550.5" stroke="#9c1236" stroke-width="1.5" stroke-linecap="butt"/>
<line x1="373.3" y1="515.7" x2="386.5" y2="515.7" stroke="#9c1236" stroke-width="1.5" stroke-linecap="butt"/>
<line x1="373.3" y1="583" x2="386.5" y2="583" stroke="#9c1236" stroke-width="1.5" stroke-linecap="butt"/>
<line x1="379.5" y1="515.7" x2="379.5" y2="583" stroke="#9c1236" stroke-width="1.5" stroke-linecap="butt"/>
<path d="M417.3 522.78L420.1 527.82L414.5 527.82Z" fill="#5b8842"/>
<path d="M417.3 540.78L420.1 545.82L414.5 545.82Z" fill="#5b8842"/>
<path d="M413.2 547.78L416 552.82L410.4 552.82Z" fill="#5b8842"/>
<path d="M420.8 549.98L423.6 555.02L418 555.02Z" fill="#5b8842"/>
<path d="M408.1 553.18L410.9 558.22L405.3 558.22Z" fill="#5b8842"/>
<path d="M426.5 555.48L429.3 560.52L423.7 560.52Z" fill="#5b8842"/>
<path d="M413.5 556.18L416.3 561.22L410.7 561.22Z" fill="#5b8842"/>
<path d="M410.4 561.58L413.2 566.62L407.6 566.62Z" fill="#5b8842"/>
<path d="M415 561.58L417.8 566.62L412.2 566.62Z" fill="#5b8842"/>
<path d="M420.4 561.58L423.2 566.62L417.6 566.62Z" fill="#5b8842"/>
<path d="M425 561.58L427.8 566.62L422.2 566.62Z" fill="#5b8842"/>
<path d="M408.1 566.18L410.9 571.22L405.3 571.22Z" fill="#5b8842"/>
<path d="M412.7 566.18L415.5 571.22L409.9 571.22Z" fill="#5b8842"/>
<path d="M418.1 566.18L420.9 571.22L415.3 571.22Z" fill="#5b8842"/>
<path d="M423.5 566.18L426.3 571.22L420.7 571.22Z" fill="#5b8842"/>
<path d="M408.8 569.98L411.6 575.02L406 575.02Z" fill="#5b8842"/>
<path d="M415 569.98L417.8 575.02L412.2 575.02Z" fill="#5b8842"/>
<path d="M421.2 569.98L424 575.02L418.4 575.02Z" fill="#5b8842"/>
<path d="M427.3 569.98L430.1 575.02L424.5 575.02Z" fill="#5b8842"/>
<path d="M413.5 573.98L416.3 579.02L410.7 579.02Z" fill="#5b8842"/>
<path d="M418.1 573.98L420.9 579.02L415.3 579.02Z" fill="#5b8842"/>
<path d="M422.7 573.98L425.5 579.02L419.9 579.02Z" fill="#5b8842"/>
<line x1="405" y1="562.3" x2="430.4" y2="562.3" stroke="#6a9e48" stroke-width="1.5" stroke-linecap="butt"/>
<line x1="412" y1="550.5" x2="423.5" y2="550.5" stroke="#6a9e48" stroke-width="1.5" stroke-linecap="butt"/>
<line x1="412" y1="577" x2="423.5" y2="577" stroke="#6a9e48" stroke-width="1.5" stroke-linecap="butt"/>
<line x1="417.3" y1="550.5" x2="417.3" y2="577" stroke="#6a9e48" stroke-width="1.5" stroke-linecap="butt"/>
<path d="M452 550.46L457.4 550.46L454.7 555.05Z" fill="#3d1a52"/>
<path d="M447.7 562.76L453.1 562.76L450.4 567.35Z" fill="#3d1a52"/>
<path d="M460 568.16L465.4 568.16L462.7 572.75Z" fill="#3d1a52"/>
<path d="M456.1 571.16L461.5 571.16L458.8 575.75Z" fill="#3d1a52"/>
<path d="M447.7 575.36L453.1 575.36L450.4 579.95Z" fill="#3d1a52"/>
<line x1="442.7" y1="569" x2="467" y2="569" stroke="#3d1a52" stroke-width="1.5" stroke-linecap="butt"/>
<line x1="447.8" y1="557.7" x2="461.5" y2="557.7" stroke="#3d1a52" stroke-width="1.5" stroke-linecap="butt"/>
<line x1="447.8" y1="578.2" x2="461.5" y2="578.2" stroke="#3d1a52" stroke-width="1.5" stroke-linecap="butt"/>
<line x1="454.7" y1="557.7" x2="454.7" y2="578.2" stroke="#3d1a52" stroke-width="1.5" stroke-linecap="butt"/>
<path d="M491.9 480L495.1 483.2L491.9 486.4L488.7 483.2Z" fill="#d58d22"/>
<path d="M492.4 539.9L495.6 543.1L492.4 546.3L489.2 543.1Z" fill="#d58d22"/>
<path d="M496.3 551.4L499.5 554.6L496.3 557.8L493.1 554.6Z" fill="#d58d22"/>
<path d="M488.4 555.1L491.6 558.3L488.4 561.5L485.2 558.3Z" fill="#d58d22"/>
<path d="M482.8 557.5L486 560.7L482.8 563.9L479.6 560.7Z" fill="#d58d22"/>
<path d="M502 560.7L505.2 563.9L502 567.1L498.8 563.9Z" fill="#d58d22"/>
<path d="M490 564.7L493.2 567.9L490 571.1L486.8 567.9Z" fill="#d58d22"/>
<path d="M494.7 565.5L497.9 568.7L494.7 571.9L491.5 568.7Z" fill="#d58d22"/>
<path d="M483.6 568.7L486.8 571.9L483.6 575.1L480.4 571.9Z" fill="#d58d22"/>
<path d="M487.6 571.9L490.8 575.1L487.6 578.3L484.4 575.1Z" fill="#d58d22"/>
<path d="M493.2 573.5L496.4 576.7L493.2 579.9L490 576.7Z" fill="#d58d22"/>
<path d="M497.9 571.6L501.1 574.8L497.9 578L494.7 574.8Z" fill="#d58d22"/>
<path d="M502 571.1L505.2 574.3L502 577.5L498.8 574.3Z" fill="#d58d22"/>
<line x1="480.4" y1="559.9" x2="505.1" y2="559.9" stroke="#d58d22" stroke-width="1.5" stroke-linecap="butt"/>
<line x1="486" y1="533.5" x2="499" y2="533.5" stroke="#d58d22" stroke-width="1.5" stroke-linecap="butt"/>
<line x1="486" y1="584.3" x2="499" y2="584.3" stroke="#d58d22" stroke-width="1.5" stroke-linecap="butt"/>
<line x1="492.4" y1="533.5" x2="492.4" y2="584.3" stroke="#d58d22" stroke-width="1.5" stroke-linecap="butt"/>
<line x1="61" y1="673.8" x2="61" y2="804.18" stroke="#111" stroke-width="1.95" stroke-linecap="butt"/>
<line x1="60.02" y1="803.2" x2="248" y2="803.2" stroke="#111" stroke-width="1.95" stroke-linecap="butt"/>
<line x1="56.2" y1="678" x2="61" y2="678" stroke="#111" stroke-width="1.4" stroke-linecap="butt"/>
<text transform="translate(30.12,682.45) scale(1.1000,1)" font-size="11.5" fill="#262626">500</text>
<line x1="56.2" y1="703.04" x2="61" y2="703.04" stroke="#111" stroke-width="1.4" stroke-linecap="butt"/>
<text transform="translate(30.12,707.49) scale(1.1000,1)" font-size="11.5" fill="#262626">400</text>
<line x1="56.2" y1="728.08" x2="61" y2="728.08" stroke="#111" stroke-width="1.4" stroke-linecap="butt"/>
<text transform="translate(30.12,732.53) scale(1.1000,1)" font-size="11.5" fill="#262626">300</text>
<line x1="56.2" y1="753.12" x2="61" y2="753.12" stroke="#111" stroke-width="1.4" stroke-linecap="butt"/>
<text transform="translate(30.12,757.57) scale(1.1000,1)" font-size="11.5" fill="#262626">200</text>
<line x1="56.2" y1="778.16" x2="61" y2="778.16" stroke="#111" stroke-width="1.4" stroke-linecap="butt"/>
<text transform="translate(30.12,782.61) scale(1.1000,1)" font-size="11.5" fill="#262626">100</text>
<line x1="56.2" y1="803.2" x2="61" y2="803.2" stroke="#111" stroke-width="1.4" stroke-linecap="butt"/>
<text transform="translate(44.2,807.65) scale(1.1000,1)" font-size="11.5" fill="#262626">0</text>
<line x1="91.9" y1="803.2" x2="91.9" y2="807.7" stroke="#111" stroke-width="1.4" stroke-linecap="butt"/>
<line x1="154.9" y1="803.2" x2="154.9" y2="807.7" stroke="#111" stroke-width="1.4" stroke-linecap="butt"/>
<line x1="216.9" y1="803.2" x2="216.9" y2="807.7" stroke="#111" stroke-width="1.4" stroke-linecap="butt"/>
<text class="v" transform="translate(22.4,794.6) rotate(-90) scale(0.7574,1) translate(-1.1,0)" font-size="13" fill="#262626">PD-L1 level in serum (pg/ml)</text>
<line x1="90.8" y1="685.4" x2="218.5" y2="685.4" stroke="#111" stroke-width="1.9" stroke-linecap="butt"/>
<text transform="translate(138.02,677.8) scale(1.1108,1)" font-size="11" fill="#262626">p=0.006</text>
<text x="127.2" y="676.8" font-size="8.5" fill="#262626">*</text>
<text x="131.6" y="676.8" font-size="8.5" fill="#262626">*</text>
<line x1="90.8" y1="719.5" x2="158.5" y2="719.5" stroke="#111" stroke-width="1.9" stroke-linecap="butt"/>
<text transform="translate(107.23,711.8) scale(1.1070,1)" font-size="11" fill="#262626">p=0.02</text>
<text x="103.8" y="710.3" font-size="8.5" fill="#262626">*</text>
<text transform="translate(94.3,816.2) rotate(-45) scale(0.9885,1) translate(-71.4,0)" font-size="11.5" fill="#262626">Normal serum</text>
<text transform="translate(157.3,816.2) rotate(-45) scale(0.9848,1) translate(-57.5,0)" font-size="11.5" fill="#262626">Smoldering</text>
<text transform="translate(219.3,816.2) rotate(-45) scale(0.9778,1) translate(-66.1,0)" font-size="11.5" fill="#262626">Symptomatic</text>
<circle cx="92.4" cy="761.8" r="2.7" fill="#263a66"/>
<circle cx="92.4" cy="771.5" r="2.7" fill="#263a66"/>
<circle cx="109.2" cy="776.6" r="2.7" fill="#263a66"/>
<circle cx="75" cy="780.3" r="2.7" fill="#263a66"/>
<circle cx="81.2" cy="781.5" r="2.7" fill="#263a66"/>
<circle cx="86.5" cy="781.8" r="2.7" fill="#263a66"/>
<circle cx="92.4" cy="780.8" r="2.7" fill="#263a66"/>
<circle cx="98.4" cy="781.5" r="2.7" fill="#263a66"/>
<circle cx="103.9" cy="780.8" r="2.7" fill="#263a66"/>
<circle cx="74.2" cy="785.8" r="2.7" fill="#263a66"/>
<circle cx="78.8" cy="786.2" r="2.7" fill="#263a66"/>
<circle cx="108.8" cy="786.2" r="2.7" fill="#263a66"/>
<circle cx="75" cy="787.4" r="2.7" fill="#263a66"/>
<circle cx="82.7" cy="788.9" r="2.7" fill="#263a66"/>
<circle cx="87.3" cy="791.5" r="2.7" fill="#263a66"/>
<circle cx="92.4" cy="793.8" r="2.7" fill="#263a66"/>
<circle cx="96.5" cy="792.3" r="2.7" fill="#263a66"/>
<circle cx="101.2" cy="790.5" r="2.7" fill="#263a66"/>
<circle cx="105.8" cy="788.5" r="2.7" fill="#263a66"/>
<circle cx="109.6" cy="787" r="2.7" fill="#263a66"/>
<line x1="71.9" y1="783.8" x2="113.5" y2="783.8" stroke="#263a66" stroke-width="1.5" stroke-linecap="butt"/>
<line x1="81.5" y1="776.2" x2="103.5" y2="776.2" stroke="#263a66" stroke-width="1.5" stroke-linecap="butt"/>
<line x1="81.5" y1="790" x2="103.5" y2="790" stroke="#263a66" stroke-width="1.5" stroke-linecap="butt"/>
<line x1="92.4" y1="776.2" x2="92.4" y2="790" stroke="#263a66" stroke-width="1.5" stroke-linecap="butt"/>
<rect x="152.9" y="749" width="5" height="5" fill="#9c1236"/>
<rect x="144.7" y="758.3" width="5" height="5" fill="#9c1236"/>
<rect x="159.8" y="758.3" width="5" height="5" fill="#9c1236"/>
<rect x="152.9" y="761.3" width="5" height="5" fill="#9c1236"/>
<rect x="149" y="774.1" width="5" height="5" fill="#9c1236"/>
<rect x="156" y="772.1" width="5" height="5" fill="#9c1236"/>
<rect x="152.9" y="782.4" width="5" height="5" fill="#9c1236"/>
<rect x="152.9" y="791" width="5" height="5" fill="#9c1236"/>
<line x1="134.6" y1="771.1" x2="176.2" y2="771.1" stroke="#9c1236" stroke-width="1.5" stroke-linecap="butt"/>
<line x1="144.2" y1="756.6" x2="166.9" y2="756.6" stroke="#9c1236" stroke-width="1.5" stroke-linecap="butt"/>
<line x1="144.2" y1="784.9" x2="166.9" y2="784.9" stroke="#9c1236" stroke-width="1.5" stroke-linecap="butt"/>
<line x1="155.4" y1="756.6" x2="155.4" y2="784.9" stroke="#9c1236" stroke-width="1.5" stroke-linecap="butt"/>
<path d="M216.9 688.98L219.7 694.02L214.1 694.02Z" fill="#5b8842"/>
<path d="M213.5 717.78L216.3 722.82L210.7 722.82Z" fill="#5b8842"/>
<path d="M224.6 718.48L227.4 723.52L221.8 723.52Z" fill="#5b8842"/>
<path d="M213.5 726.48L216.3 731.52L210.7 731.52Z" fill="#5b8842"/>
<path d="M220.8 725.48L223.6 730.52L218 730.52Z" fill="#5b8842"/>
<path d="M216.9 736.98L219.7 742.02L214.1 742.02Z" fill="#5b8842"/>
<path d="M209.5 740.38L212.3 745.42L206.7 745.42Z" fill="#5b8842"/>
<path d="M216.9 746.98L219.7 752.02L214.1 752.02Z" fill="#5b8842"/>
<path d="M228.5 746.48L231.3 751.52L225.7 751.52Z" fill="#5b8842"/>
<path d="M224.6 753.18L227.4 758.22L221.8 758.22Z" fill="#5b8842"/>
<path d="M210 757.28L212.8 762.32L207.2 762.32Z" fill="#5b8842"/>
<path d="M216.9 758.48L219.7 763.52L214.1 763.52Z" fill="#5b8842"/>
<path d="M235.4 766.18L238.2 771.22L232.6 771.22Z" fill="#5b8842"/>
<path d="M199.2 769.98L202 775.02L196.4 775.02Z" fill="#5b8842"/>
<path d="M204.3 770.78L207.1 775.82L201.5 775.82Z" fill="#5b8842"/>
<path d="M208.9 771.58L211.7 776.62L206.1 776.62Z" fill="#5b8842"/>
<path d="M215.4 772.68L218.2 777.72L212.6 777.72Z" fill="#5b8842"/>
<path d="M219.7 773.18L222.5 778.22L216.9 778.22Z" fill="#5b8842"/>
<path d="M225.4 771.58L228.2 776.62L222.6 776.62Z" fill="#5b8842"/>
<path d="M230 769.98L232.8 775.02L227.2 775.02Z" fill="#5b8842"/>
<path d="M199.7 775.48L202.5 780.52L196.9 780.52Z" fill="#5b8842"/>
<path d="M206.9 777.78L209.7 782.82L204.1 782.82Z" fill="#5b8842"/>
<path d="M213.5 778.48L216.3 783.52L210.7 783.52Z" fill="#5b8842"/>
<path d="M226.9 778.18L229.7 783.22L224.1 783.22Z" fill="#5b8842"/>
<path d="M234.2 777.28L237 782.32L231.4 782.32Z" fill="#5b8842"/>
<path d="M220.3 781.58L223.1 786.62L217.5 786.62Z" fill="#5b8842"/>
<path d="M206.2 784.98L209 790.02L203.4 790.02Z" fill="#5b8842"/>
<path d="M228.9 783.88L231.7 788.92L226.1 788.92Z" fill="#5b8842"/>
<path d="M213.5 790.08L216.3 795.12L210.7 795.12Z" fill="#5b8842"/>
<path d="M220.3 787.48L223.1 792.52L217.5 792.52Z" fill="#5b8842"/>
<line x1="196.6" y1="763" x2="238.2" y2="763" stroke="#6a9e48" stroke-width="1.5" stroke-linecap="butt"/>
<line x1="206.2" y1="737.2" x2="228.5" y2="737.2" stroke="#6a9e48" stroke-width="1.5" stroke-linecap="butt"/>
<line x1="206.2" y1="786.5" x2="228.5" y2="786.5" stroke="#6a9e48" stroke-width="1.5" stroke-linecap="butt"/>
<line x1="216.9" y1="737.2" x2="216.9" y2="786.5" stroke="#6a9e48" stroke-width="1.5" stroke-linecap="butt"/>
<line x1="323.6" y1="673.8" x2="323.6" y2="804.18" stroke="#111" stroke-width="1.95" stroke-linecap="butt"/>
<line x1="322.62" y1="803.2" x2="511" y2="803.2" stroke="#111" stroke-width="1.95" stroke-linecap="butt"/>
<line x1="318.8" y1="678.2" x2="323.6" y2="678.2" stroke="#111" stroke-width="1.4" stroke-linecap="butt"/>
<text transform="translate(279.84,682.65) scale(1.1000,1)" font-size="11.5" fill="#262626">60000</text>
<line x1="318.8" y1="719.87" x2="323.6" y2="719.87" stroke="#111" stroke-width="1.4" stroke-linecap="butt"/>
<text transform="translate(279.84,724.32) scale(1.1000,1)" font-size="11.5" fill="#262626">40000</text>
<line x1="318.8" y1="761.53" x2="323.6" y2="761.53" stroke="#111" stroke-width="1.4" stroke-linecap="butt"/>
<text transform="translate(279.84,765.98) scale(1.1000,1)" font-size="11.5" fill="#262626">20000</text>
<line x1="318.8" y1="803.2" x2="323.6" y2="803.2" stroke="#111" stroke-width="1.4" stroke-linecap="butt"/>
<text transform="translate(308,807.65) scale(1.1000,1)" font-size="11.5" fill="#262626">0</text>
<line x1="354.5" y1="803.2" x2="354.5" y2="807.7" stroke="#111" stroke-width="1.4" stroke-linecap="butt"/>
<line x1="417.3" y1="803.2" x2="417.3" y2="807.7" stroke="#111" stroke-width="1.4" stroke-linecap="butt"/>
<line x1="480" y1="803.2" x2="480" y2="807.7" stroke="#111" stroke-width="1.4" stroke-linecap="butt"/>
<text class="v" transform="translate(272.6,794.6) rotate(-90) scale(0.7592,1) translate(-1.1,0)" font-size="13" fill="#262626">PD-L2 level in serum (pg/ml)</text>
<line x1="335.5" y1="680.2" x2="483.8" y2="680.2" stroke="#111" stroke-width="1.9" stroke-linecap="butt"/>
<text transform="translate(390.04,673.7) scale(1.0844,1)" font-size="11" fill="#262626">p&lt;0.0001</text>
<text x="378.2" y="672.8" font-size="8.5" fill="#262626">*</text>
<text x="382.4" y="672.8" font-size="8.5" fill="#262626">*</text>
<text x="386.6" y="672.8" font-size="8.5" fill="#262626">*</text>
<line x1="335.5" y1="719.7" x2="419.8" y2="719.7" stroke="#111" stroke-width="1.9" stroke-linecap="butt"/>
<text transform="translate(360.41,711.6) scale(1.1254,1)" font-size="11" fill="#262626">p=0.02</text>
<text x="356.6" y="710.5" font-size="8.5" fill="#262626">*</text>
<text transform="translate(356.9,816.2) rotate(-45) scale(0.9885,1) translate(-71.4,0)" font-size="11.5" fill="#262626">Normal serum</text>
<text transform="translate(419.7,816.2) rotate(-45) scale(0.9848,1) translate(-57.5,0)" font-size="11.5" fill="#262626">Smoldering</text>
<text transform="translate(482.4,816.2) rotate(-45) scale(0.9778,1) translate(-66.1,0)" font-size="11.5" fill="#262626">Symptomatic</text>
<circle cx="354.5" cy="769" r="2.7" fill="#263a66"/>
<circle cx="351.3" cy="779.6" r="2.7" fill="#263a66"/>
<circle cx="358.7" cy="778.6" r="2.7" fill="#263a66"/>
<circle cx="338" cy="782.8" r="2.7" fill="#263a66"/>
<circle cx="336.9" cy="787.7" r="2.7" fill="#263a66"/>
<circle cx="342.2" cy="787.7" r="2.7" fill="#263a66"/>
<circle cx="347.5" cy="787.7" r="2.7" fill="#263a66"/>
<circle cx="352.8" cy="787.7" r="2.7" fill="#263a66"/>
<circle cx="358.1" cy="787.7" r="2.7" fill="#263a66"/>
<circle cx="364.4" cy="787.7" r="2.7" fill="#263a66"/>
<circle cx="370.8" cy="787.7" r="2.7" fill="#263a66"/>
<circle cx="341" cy="791.3" r="2.7" fill="#263a66"/>
<circle cx="346.2" cy="791.3" r="2.7" fill="#263a66"/>
<circle cx="351.7" cy="791.3" r="2.7" fill="#263a66"/>
<circle cx="357" cy="791.3" r="2.7" fill="#263a66"/>
<circle cx="362.3" cy="791.3" r="2.7" fill="#263a66"/>
<circle cx="367.6" cy="791.3" r="2.7" fill="#263a66"/>
<circle cx="354.5" cy="795.5" r="2.7" fill="#263a66"/>
<circle cx="360.2" cy="793.4" r="2.7" fill="#263a66"/>
<line x1="333.8" y1="787.7" x2="375.4" y2="787.7" stroke="#263a66" stroke-width="1.5" stroke-linecap="butt"/>
<line x1="344.3" y1="781.3" x2="365.5" y2="781.3" stroke="#263a66" stroke-width="1.5" stroke-linecap="butt"/>
<line x1="344.3" y1="792.3" x2="365.5" y2="792.3" stroke="#263a66" stroke-width="1.5" stroke-linecap="butt"/>
<line x1="354.5" y1="781.3" x2="354.5" y2="792.3" stroke="#263a66" stroke-width="1.5" stroke-linecap="butt"/>
<rect x="399.6" y="765.5" width="5" height="5" fill="#9c1236"/>
<rect x="426.3" y="762.7" width="5" height="5" fill="#9c1236"/>
<rect x="406.7" y="768.9" width="5" height="5" fill="#9c1236"/>
<rect x="418.5" y="768.7" width="5" height="5" fill="#9c1236"/>
<rect x="410.2" y="774.7" width="5" height="5" fill="#9c1236"/>
<rect x="412.7" y="775" width="5" height="5" fill="#9c1236"/>
<rect x="418.5" y="778.1" width="5" height="5" fill="#9c1236"/>
<rect x="410.8" y="788" width="5" height="5" fill="#9c1236"/>
<rect x="418.5" y="786.5" width="5" height="5" fill="#9c1236"/>
<line x1="396" y1="776.7" x2="437.8" y2="776.7" stroke="#9c1236" stroke-width="1.5" stroke-linecap="butt"/>
<line x1="406" y1="767.1" x2="428.5" y2="767.1" stroke="#9c1236" stroke-width="1.5" stroke-linecap="butt"/>
<line x1="406" y1="786.4" x2="428.5" y2="786.4" stroke="#9c1236" stroke-width="1.5" stroke-linecap="butt"/>
<line x1="416.2" y1="767.1" x2="416.2" y2="786.4" stroke="#9c1236" stroke-width="1.5" stroke-linecap="butt"/>
<path d="M479.8 683.28L482.6 688.32L477 688.32Z" fill="#5b8842"/>
<path d="M463.8 758.48L466.6 763.52L461 763.52Z" fill="#5b8842"/>
<path d="M472.3 760.38L475.1 765.42L469.5 765.42Z" fill="#5b8842"/>
<path d="M479.7 761.58L482.5 766.62L476.9 766.62Z" fill="#5b8842"/>
<path d="M487.4 757.78L490.2 762.82L484.6 762.82Z" fill="#5b8842"/>
<path d="M494.6 757.78L497.4 762.82L491.8 762.82Z" fill="#5b8842"/>
<path d="M493.8 761.58L496.6 766.62L491 766.62Z" fill="#5b8842"/>
<path d="M461.5 763.18L464.3 768.22L458.7 768.22Z" fill="#5b8842"/>
<path d="M497.7 763.18L500.5 768.22L494.9 768.22Z" fill="#5b8842"/>
<path d="M466.2 765.48L469 770.52L463.4 770.52Z" fill="#5b8842"/>
<path d="M472.3 766.98L475.1 772.02L469.5 772.02Z" fill="#5b8842"/>
<path d="M478.5 768.48L481.3 773.52L475.7 773.52Z" fill="#5b8842"/>
<path d="M484.6 766.98L487.4 772.02L481.8 772.02Z" fill="#5b8842"/>
<path d="M490.8 766.18L493.6 771.22L488 771.22Z" fill="#5b8842"/>
<path d="M462.3 771.58L465.1 776.62L459.5 776.62Z" fill="#5b8842"/>
<path d="M466.9 771.58L469.7 776.62L464.1 776.62Z" fill="#5b8842"/>
<path d="M471.5 771.58L474.3 776.62L468.7 776.62Z" fill="#5b8842"/>
<path d="M476.9 771.58L479.7 776.62L474.1 776.62Z" fill="#5b8842"/>
<path d="M482.3 771.58L485.1 776.62L479.5 776.62Z" fill="#5b8842"/>
<path d="M487.7 771.58L490.5 776.62L484.9 776.62Z" fill="#5b8842"/>
<path d="M493.1 771.58L495.9 776.62L490.3 776.62Z" fill="#5b8842"/>
<path d="M497.7 771.58L500.5 776.62L494.9 776.62Z" fill="#5b8842"/>
<path d="M464.6 778.48L467.4 783.52L461.8 783.52Z" fill="#5b8842"/>
<path d="M476.9 777.78L479.7 782.82L474.1 782.82Z" fill="#5b8842"/>
<path d="M480.3 776.18L483.1 781.22L477.5 781.22Z" fill="#5b8842"/>
<path d="M471.5 782.38L474.3 787.42L468.7 787.42Z" fill="#5b8842"/>
<path d="M486.9 782.38L489.7 787.42L484.1 787.42Z" fill="#5b8842"/>
<path d="M494.6 781.58L497.4 786.62L491.8 786.62Z" fill="#5b8842"/>
<path d="M479.7 785.48L482.5 790.52L476.9 790.52Z" fill="#5b8842"/>
<line x1="459.2" y1="770" x2="500.8" y2="770" stroke="#6a9e48" stroke-width="1.5" stroke-linecap="butt"/>
<line x1="468.5" y1="752" x2="491.5" y2="752" stroke="#6a9e48" stroke-width="1.5" stroke-linecap="butt"/>
<line x1="468.5" y1="787" x2="491.5" y2="787" stroke="#6a9e48" stroke-width="1.5" stroke-linecap="butt"/>
<line x1="480" y1="752" x2="480" y2="787" stroke="#6a9e48" stroke-width="1.5" stroke-linecap="butt"/>
</svg>
</body></html>
